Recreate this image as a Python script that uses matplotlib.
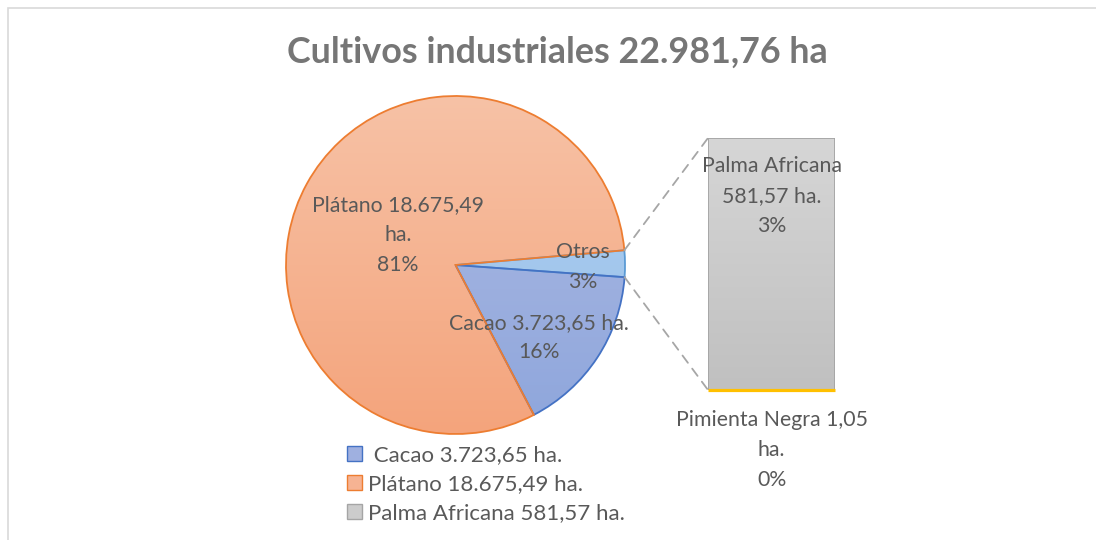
import numpy as np
import matplotlib.pyplot as plt
from matplotlib.patches import Patch, Rectangle
from matplotlib.patches import ConnectionPatch
from matplotlib.colors import LinearSegmentedColormap

# hectáreas por cultivo
pie_labels = ["Otros", "Cacao 3.723,65 ha.", "Plátano 18.675,49 ha."]
palma = 581.57
pimienta = 1.05
cacao = 3723.65
platano = 18675.49
otros = palma + pimienta
pie_values = [otros, cacao, platano]
total = sum(pie_values)

legend_labels = [" Cacao 3.723,65 ha.", "Plátano 18.675,49 ha.", "Palma Africana 581,57 ha."]

txt = "#595959"
fs = 15.3
ls = 1.6
plt.rcParams['font.family'] = ['Lato', 'DejaVu Sans']

fig = plt.figure(figsize=(10.96, 5.4), dpi=100)
W, H = 1096, 540

# marco del gráfico
fig.patches.append(Rectangle((8 / W, -0.1), 1.2, (H - 8) / H + 0.1, transform=fig.transFigure,
                             fill=False, edgecolor="#d9d9d9", lw=1.2))

fig.text(557 / W, 1 - 52 / H, "Cultivos industriales 22.981,76 ha", ha="center", va="center",
         fontsize=25.8, fontweight="bold", color="#767676")

# ---- pastel
ax = fig.add_axes([286 / W, (H - 434) / H, 339 / W, 338 / H])
start = 5.0
wedges, _ = ax.pie(pie_values, startangle=start, counterclock=False, radius=1,
                   wedgeprops=dict(linewidth=1.3))

grads = [("#b3d2f1", "#94bde9", "#5b9bd5"),
         ("#afbbe3", "#8ea6dc", "#4472c4"),
         ("#f7c2a6", "#f4a47c", "#ed7d31")]
for w, (c1, c2, ec) in zip(wedges, grads):
    cmap = LinearSegmentedColormap.from_list("g", [c2, c1])
    img = ax.imshow(np.linspace(0, 1, 256).reshape(-1, 1), cmap=cmap, origin="lower",
                    extent=[-1, 1, -1, 1], aspect="auto", zorder=1)
    img.set_clip_path(w)
    w.set_facecolor("none")
    w.set_edgecolor(ec)
    w.set_zorder(2)
ax.set_xlim(-1, 1)
ax.set_ylim(-1, 1)
ax.axis("off")

pct = [v / total * 100 for v in pie_values]
ax.text(0.75, -0.012, "Otros\n%d%%" % round(pct[0]), ha="center", va="center",
        fontsize=fs, color=txt, linespacing=ls, zorder=5)
ax.text(0.49, -0.43, "Cacao 3.723,65 ha.\n%d%%" % round(pct[1]), ha="center", va="center",
        fontsize=fs, color=txt, linespacing=ls, zorder=5)
ax.text(-0.34, 0.178, "Plátano 18.675,49\nha.\n%d%%" % round(pct[2]), ha="center", va="center",
        fontsize=fs, color=txt, linespacing=ls, zorder=5)

# ---- barra de "Otros"
bx = fig.add_axes([708 / W, (H - 390) / H, 127 / W, 252 / H])
b1 = bx.bar(0, pimienta, width=1, color="#ffc000", edgecolor="#ffc000", lw=1.5)
b2 = bx.bar(0, palma, bottom=pimienta, width=1, color="none", edgecolor="#a5a5a5", lw=1.3, zorder=3)
cmap = LinearSegmentedColormap.from_list("gg", ["#c0c0c0", "#d6d6d6"])
img = bx.imshow(np.linspace(0, 1, 256).reshape(-1, 1), cmap=cmap, origin="lower",
                extent=[-0.5, 0.5, pimienta, otros], aspect="auto", zorder=1)
img.set_clip_path(b2[0])
bx.plot([-0.5, 0.5], [pimienta, pimienta], color="#ffc000", lw=2.3, zorder=5,
        solid_capstyle="butt", clip_on=False)
bx.set_xlim(-0.5, 0.5)
bx.set_ylim(0, otros)
bx.axis("off")

bx.text(0, otros * 0.77, "Palma Africana\n581,57 ha.\n%d%%" % round(palma / total * 100),
        ha="center", va="center", fontsize=fs, color=txt, linespacing=ls)
bx.text(0, -otros * 0.238, "Pimienta Negra 1,05\nha.\n%d%%" % round(pimienta / total * 100),
        ha="center", va="center", fontsize=fs, color=txt, linespacing=ls, clip_on=False)

# líneas de conexión
a_top = np.deg2rad(start)
a_bot = np.deg2rad(start - pct[0] * 3.6)
for ang, yb in [(a_top, otros), (a_bot, 0)]:
    con = ConnectionPatch(xyA=(np.cos(ang), np.sin(ang)), coordsA=ax.transData,
                          xyB=(-0.5, yb), coordsB=bx.transData,
                          color="#a6a6a6", lw=1.3, linestyle=(0, (5, 4)))
    fig.add_artist(con)

# leyenda
handles = [Patch(facecolor="#9fb0e0", edgecolor="#4472c4"),
           Patch(facecolor="#f6b393", edgecolor="#ed7d31"),
           Patch(facecolor="#cccccc", edgecolor="#a5a5a5")]
fig.legend(handles, legend_labels, loc="upper left", bbox_to_anchor=(336 / W, 1 - 434 / H),
           frameon=False, fontsize=16, labelcolor=txt, handlelength=0.65, handleheight=0.65,
           handletextpad=0.3, labelspacing=0.4, borderpad=0)

fig.savefig("out.png", dpi=100)
